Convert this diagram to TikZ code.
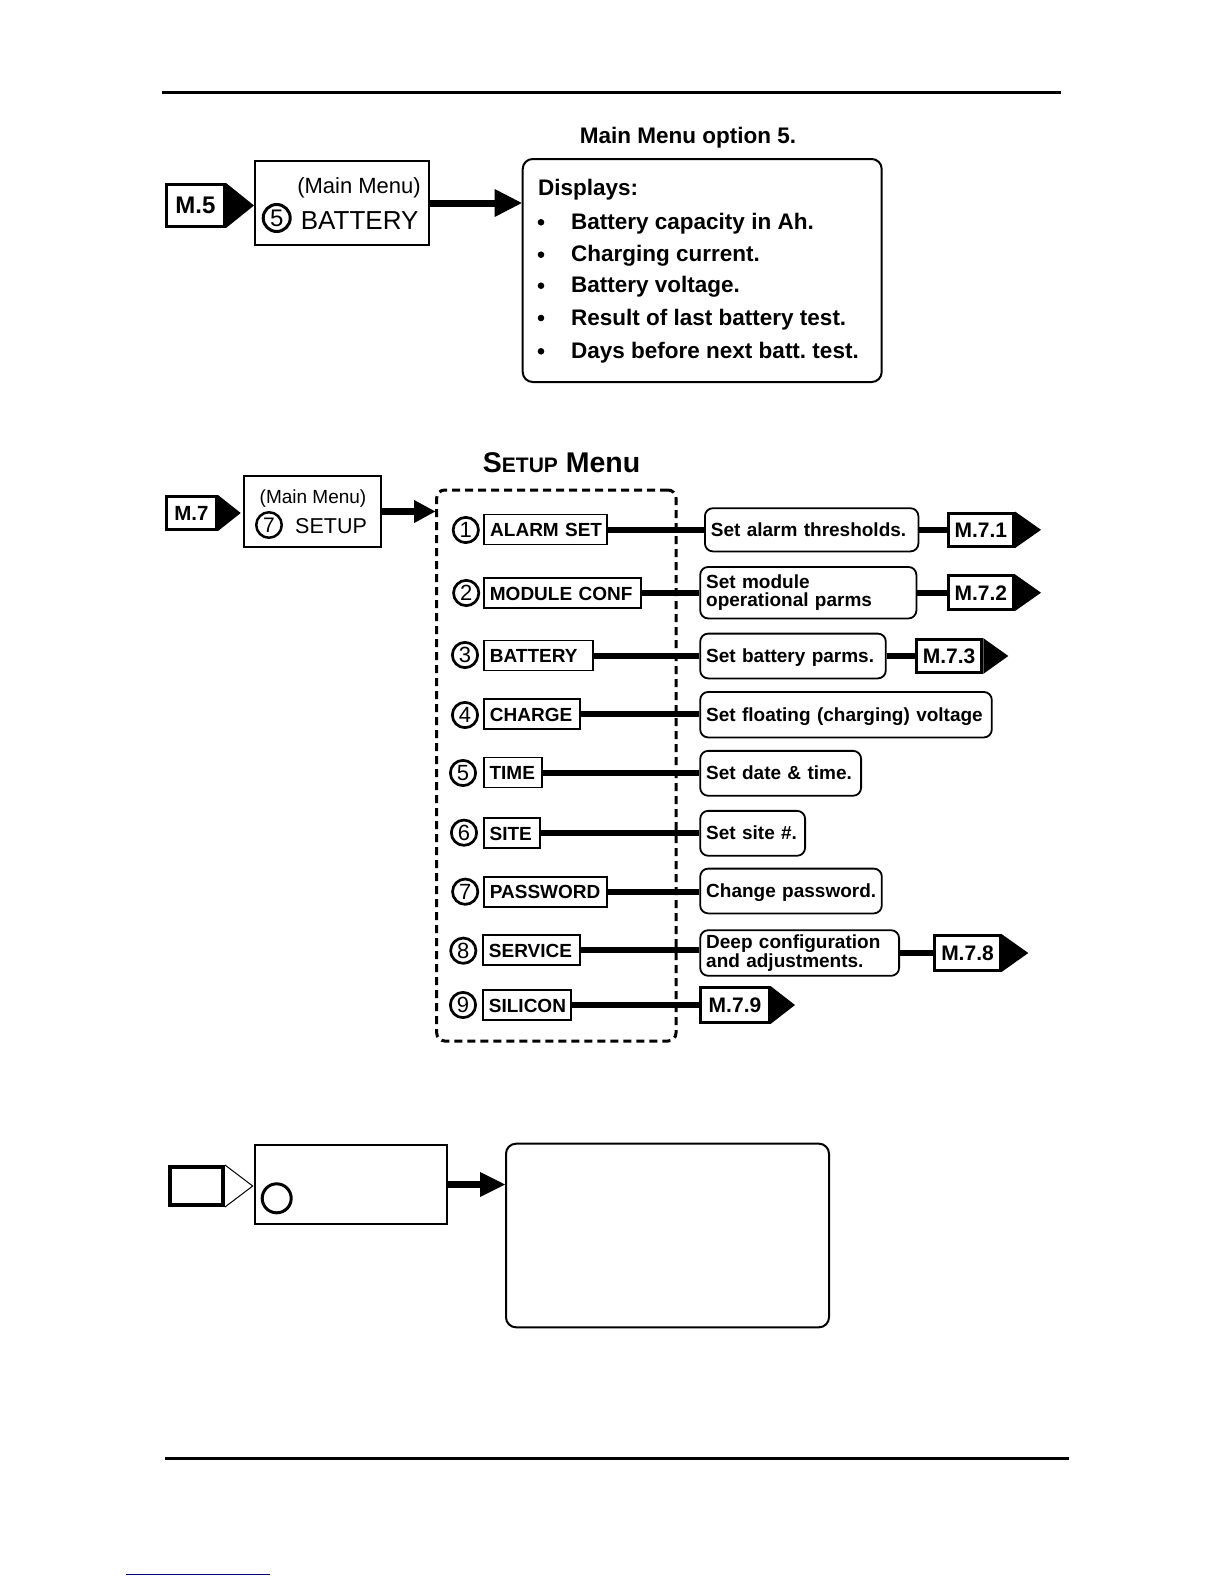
\documentclass[tikz,border=0pt]{standalone}
\usepackage{fontspec}
\setmainfont{Liberation Sans}
\usetikzlibrary{calc}
\definecolor{navyline}{RGB}{0,0,128}
\frenchspacing
\tikzset{
  rule/.style={line width=3pt},
  tagbox/.style={draw, line width=3pt, inner sep=0pt, font=\fontsize{21}{24}\selectfont\bfseries},
  tagtip/.style={fill=black},
  menubox/.style={draw, line width=2pt, inner sep=0pt},
  infobox/.style={draw, line width=2pt, rounded corners=10pt, inner sep=0pt},
  txt/.style={inner sep=0pt},
  bigtxt/.style={txt, font=\fontsize{22.5}{27}\selectfont\bfseries},
  numcirc/.style={circle, draw, inner sep=0pt},
  rownum/.style={numcirc, line width=2.7pt, minimum size=25.3pt, font=\fontsize{22}{22}\selectfont},
  itembox/.style={draw, line width=1.8pt, inner xsep=6pt, inner ysep=0pt, align=left, minimum height=30pt, text height=14pt, text depth=0pt, font=\fontsize{19}{22}\selectfont\bfseries},
  descbox/.style={draw, line width=1.8pt, rounded corners=8pt, inner xsep=6pt, inner ysep=0pt, align=left, font=\fontsize{19}{18.5}\selectfont\bfseries},
  oneline/.style={text height=14pt, text depth=1pt},
  link/.style={line width=6pt},
  fatlink/.style={line width=7pt},
  dashbox/.style={draw, line width=3pt, dash pattern=on 8pt off 5pt, rounded corners=8pt, inner sep=0pt}
}
\begin{document}
\frenchspacing
\begin{tikzpicture}[x=1pt, y=-1pt]
\useasboundingbox (0,0) rectangle (1224,1584);

% page rules
\draw[rule] (162,93) -- (1061,93);
\draw[rule] (165,1458) -- (1069,1458);
\draw[navyline, line width=1.5pt] (126,1574.5) -- (270,1574.5);

% ---------- Main menu option 5 ----------
\node[bigtxt, anchor=base] (title5) at (688,143) {Main Menu option 5.};
\node[tagbox, minimum width=58, minimum height=42, font=\fontsize{24}{26}\selectfont\bfseries] (m5) at (195.5,205.5) {M.5};
\fill[tagtip] (m5.north east) -- ($(m5.east)+(28,0)$) -- (m5.south east) -- cycle;
\node[menubox, minimum width=174, minimum height=84] (mm5) at (342,203) {};
\node[txt, anchor=base east, font=\fontsize{22}{24}\selectfont] (mm5t) at (421,193) {(Main Menu)};
\node[numcirc, line width=3pt, minimum size=27pt, font=\fontsize{24}{24}\selectfont] (c5) at (276.7,218) {5};
\node[txt, anchor=base west, font=\fontsize{26}{28}\selectfont] (bat5) at (300.7,229) {BATTERY};
\node[infobox, minimum width=359, minimum height=223] (disp) at (702.2,270.5) {};
\draw[fatlink] (mm5.east) -- ($(mm5.east -| disp.west)+(-26,0)$);
\fill ($(mm5.east -| disp.west)+(-27,-14)$) -- (mm5.east -| disp.west) -- ($(mm5.east -| disp.west)+(-27,14)$) -- cycle;
\node[bigtxt, anchor=base west] (dispt) at (538,195) {Displays:};
\node[bigtxt, anchor=base west] (it1) at (571,229.3) {Battery capacity in Ah.};
\node[bigtxt, anchor=base west] (it2) at (571,261.7) {Charging current.};
\node[bigtxt, anchor=base west] (it3) at (571,292.7) {Battery voltage.};
\node[bigtxt, anchor=base west] (it4) at (571,325) {Result of last battery test.};
\node[bigtxt, anchor=base west] (it5) at (571,358.3) {Days before next batt. test.};
\foreach \yy in {229.3,261.7,292.7,325,358.3} {\fill (541,\yy-7) circle (3.3);}

% ---------- Setup menu ----------
\node[txt, anchor=base west, font=\bfseries] (setupt) at (482.7,472.3) {\fontsize{28.5}{30}\selectfont S\fontsize{21}{22}\selectfont ETUP\fontsize{28.5}{30}\selectfont\ Menu};
\node[tagbox, minimum width=50, minimum height=33, font=\fontsize{20.5}{22}\selectfont\bfseries] (m7) at (191.5,513) {M.7};
\fill[tagtip] (m7.north east) -- ($(m7.east)+(22.7,0)$) -- (m7.south east) -- cycle;
\node[menubox, minimum width=137.3, minimum height=71] (mm7) at (312.35,511.5) {};
\node[txt, anchor=base, font=\fontsize{19}{21}\selectfont] (mm7t) at (313,503) {(Main Menu)};
\node[numcirc, line width=2.5pt, minimum size=25.5pt, font=\fontsize{21}{21}\selectfont] (c7) at (269,525) {7};
\node[txt, anchor=base west, font=\fontsize{21.5}{23}\selectfont] (setup7) at (295,533) {SETUP};
\node[dashbox, minimum width=239.3, minimum height=551] (menu) at (556.35,765.5) {};
\draw[line width=6.5pt] (mm7.east) -- ($(mm7.east -| menu.west)+(-20,0)$);
\fill ($(mm7.east -| menu.west)+(-21,-11.5)$) -- (mm7.east -| menu.west) -- ($(mm7.east -| menu.west)+(-21,11.5)$) -- cycle;

% rows: number circles
\node[rownum] (n1) at (465.8,530) {1};
\node[rownum] (n2) at (466.2,593) {2};
\node[rownum] (n3) at (465,655) {3};
\node[rownum] (n4) at (465,715) {4};
\node[rownum] (n5) at (463,773) {5};
\node[rownum] (n6) at (464,832.7) {6};
\node[rownum] (n7) at (465.2,891.7) {7};
\node[rownum] (n8) at (463.3,950.7) {8};
\node[rownum] (n9) at (463,1005) {9};

% rows: item boxes (text width = box width - 13.8)
\node[itembox, anchor=west, text width=110.4pt] (b1) at (483.3,529.5) {\mbox{ALARM SET}};
\node[itembox, anchor=west, text width=145.4pt] (b2) at (483,593) {\mbox{MODULE CONF}};
\node[itembox, anchor=west, text width=97.4pt] (b3) at (483,655.5) {\mbox{BATTERY}};
\node[itembox, anchor=west, text width=84.1pt] (b4) at (483,714) {\mbox{CHARGE}};
\node[itembox, anchor=west, text width=46.7pt] (b5) at (482.7,772.5) {\mbox{TIME}};
\node[itembox, anchor=west, text width=44.4pt] (b6) at (482.7,833) {\mbox{SITE}};
\node[itembox, anchor=west, text width=110.7pt] (b7) at (483,891.85) {\mbox{PASSWORD}};
\node[itembox, anchor=west, text width=84.7pt] (b8) at (482,950.15) {\mbox{SERVICE}};
\node[itembox, anchor=west, text width=75.7pt] (b9) at (482,1005) {\mbox{SILICON}};

% rows: description boxes
\node[descbox, oneline, anchor=west, text width=201.5pt, minimum height=43.2] (d1) at (704,529.8) {\mbox{Set alarm thresholds.}};
\node[descbox, anchor=west, text width=204.2pt, minimum height=51.5] (d2) at (699.3,592.7) {Set module\\operational parms};
\node[descbox, oneline, anchor=west, text width=173.6pt, minimum height=44.8] (d3) at (699.3,656) {\mbox{Set battery parms.}};
\node[descbox, oneline, anchor=west, text width=279.6pt, minimum height=45.5] (d4) at (699.3,714.7) {\mbox{Set floating (charging) voltage}};
\node[descbox, oneline, anchor=west, text width=148.9pt, minimum height=44.9] (d5) at (699.3,773.3) {\mbox{Set date \& time.}};
\node[descbox, oneline, anchor=west, text width=92.9pt, minimum height=44.9] (d6) at (699.3,833.3) {\mbox{Set site \#.}};
\node[descbox, oneline, anchor=west, text width=169.6pt, minimum height=44.8] (d7) at (699.3,891) {\mbox{Change password.}};
\node[descbox, anchor=west, text width=186.9pt, minimum height=45.6] (d8) at (699.3,953) {Deep configuration\\and adjustments.};

% tags
\node[tagbox, minimum width=65.3, minimum height=33.6] (m71) at (980.85,529.8) {M.7.1};
\node[tagbox, minimum width=65.3, minimum height=33.6] (m72) at (980.85,592.7) {M.7.2};
\node[tagbox, minimum width=65.3, minimum height=32.7] (m73) at (949.15,656) {M.7.3};
\node[tagbox, minimum width=65.4, minimum height=34.7] (m78) at (967.5,953) {M.7.8};
\node[tagbox, minimum width=68.4, minimum height=34.7] (m79) at (735,1005) {M.7.9};
\foreach \t/\l in {m71/26, m72/26, m73/25, m78/26.6, m79/24.3} {
  \fill[tagtip] (\t.north east) -- ($(\t.east)+(\l,0)$) -- (\t.south east) -- cycle;
}

% row connectors
\foreach \i in {1,...,8} {\draw[link] (b\i.east) -- (b\i.east -| d\i.west);}
\draw[link] (b9.east) -- (b9.east -| m79.west);
\draw[link] (d1.east) -- (d1.east -| m71.west);
\draw[link] (d2.east) -- (d2.east -| m72.west);
\draw[link] (d3.east) -- (d3.east -| m73.west);
\draw[link] (d8.east) -- (d8.east -| m78.west);

% ---------- blank template ----------
\node[tagbox, line width=4pt, minimum width=52.7, minimum height=38] (blanktag) at (196.65,1186) {};
\draw[line width=1pt] (blanktag.north east) -- ($(blanktag.east)+(27.7,0)$) -- (blanktag.south east);
\node[menubox, minimum width=191.4, minimum height=79] (blankmm) at (351,1184.5) {};
\node[numcirc, line width=3pt, minimum size=29pt] (blankc) at (276.7,1198.3) {};
\node[infobox, minimum width=323, minimum height=183.6] (blankinfo) at (667.5,1235.5) {};
\draw[fatlink] (blankmm.east) -- ($(blankmm.east -| blankinfo.west)+(-24,0)$);
\fill ($(blankmm.east -| blankinfo.west)+(-25,-12.6)$) -- (blankmm.east -| blankinfo.west) -- ($(blankmm.east -| blankinfo.west)+(-25,12.6)$) -- cycle;
\end{tikzpicture}
\end{document}
